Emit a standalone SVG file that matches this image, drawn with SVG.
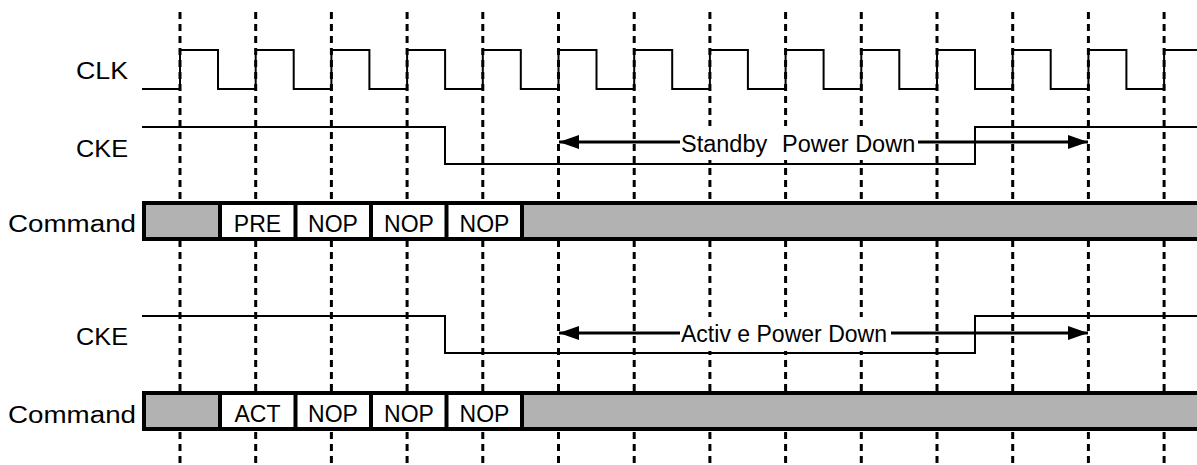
<svg xmlns="http://www.w3.org/2000/svg" width="1197" height="465" viewBox="0 0 1197 465">
<style>
.grid{stroke:#000;stroke-width:3;stroke-dasharray:7 5;fill:none}
.wave{stroke:#000;stroke-width:2;fill:none}
.lbl{font-family:"Liberation Sans",Arial,sans-serif;font-size:23.5px;fill:#000}
.cell{font-family:"Liberation Sans",Arial,sans-serif;font-size:23px;fill:#000;text-anchor:middle}
.bar{fill:#b2b2b2;stroke:#000;stroke-width:4}
.cells{fill:#fff;stroke:none}
.sep{stroke:#000;stroke-width:4}
.arr{stroke:#000;stroke-width:3;fill:none;marker-start:url(#ah);marker-end:url(#ah)}
.mask{fill:#fff}
</style>
<defs>
<marker id="ah" viewBox="0 0 20 14" refX="20" refY="7" markerWidth="20" markerHeight="14" markerUnits="userSpaceOnUse" orient="auto-start-reverse">
<path d="M0,0 L20,7 L0,14 z" fill="#000"/>
</marker>
</defs>
<rect width="1197" height="465" fill="#fff"/>
<g id="gridlines">
<path class="grid" d="M180,12V465M255.7,12V465M331.4,12V465M407.1,12V465M482.8,12V465M558.5,12V465M634.2,12V465M709.9,12V465M785.6,12V465M861.3,12V465M937,12V465M1012.7,12V465M1088.4,12V465M1164.1,12V465"/>
</g>
<g id="clk">
<text class="lbl" x="76" y="79" textLength="52" lengthAdjust="spacingAndGlyphs">CLK</text>
<path class="wave" d="M142,89H180V50H218V89H255.7V50H293.7V89H331.4V50H369.4V89H407.1V50H445.1V89H482.8V50H520.8V89H558.5V50H596.5V89H634.2V50H672.2V89H709.9V50H747.9V89H785.6V50H823.6V89H861.3V50H899.3V89H937V50H975V89H1012.7V50H1050.7V89H1088.4V50H1126.4V89H1164.1V50H1197"/>
</g>
<g id="cke1">
<text class="lbl" x="76" y="157" textLength="52" lengthAdjust="spacingAndGlyphs">CKE</text>
<path class="wave" d="M142,127H445V164H975V127H1197"/>
</g>
<g id="cmd1">
<text class="lbl" x="8" y="232" textLength="128" lengthAdjust="spacingAndGlyphs">Command</text>
<rect class="bar" x="144" y="203" width="1060" height="36"/>
<rect class="cells" x="220" y="205" width="302" height="32"/>
<path class="sep" d="M220,203V239M295.5,203V239M371,203V239M446.5,203V239M522,203V239"/>
<text class="cell" x="257.5" y="232">PRE</text>
<text class="cell" x="333" y="232">NOP</text>
<text class="cell" x="409" y="232">NOP</text>
<text class="cell" x="484.5" y="232">NOP</text>
</g>
<g id="cke2">
<text class="lbl" x="76" y="345" textLength="52" lengthAdjust="spacingAndGlyphs">CKE</text>
<path class="wave" d="M142,316H445V353H975V316H1197"/>
</g>
<g id="cmd2">
<text class="lbl" x="8" y="423" textLength="128" lengthAdjust="spacingAndGlyphs">Command</text>
<rect class="bar" x="144" y="393" width="1060" height="36"/>
<rect class="cells" x="220" y="395" width="302" height="32"/>
<path class="sep" d="M220,393V429M295.5,393V429M371,393V429M446.5,393V429M522,393V429"/>
<text class="cell" x="257.5" y="422">ACT</text>
<text class="cell" x="333" y="422">NOP</text>
<text class="cell" x="409" y="422">NOP</text>
<text class="cell" x="484.5" y="422">NOP</text>
</g>
<g id="connectors">
<path class="arr" d="M559,142H1088"/>
<rect class="mask" x="680" y="126" width="238" height="34"/>
<text class="lbl" y="152"><tspan x="681">Standby</tspan><tspan x="782">Power Down</tspan></text>
<path class="arr" d="M559,333H1088"/>
<rect class="mask" x="680" y="317" width="211" height="34"/>
<text class="lbl" x="681" y="342" textLength="206" lengthAdjust="spacingAndGlyphs">Activ e Power Down</text>
</g>
</svg>
